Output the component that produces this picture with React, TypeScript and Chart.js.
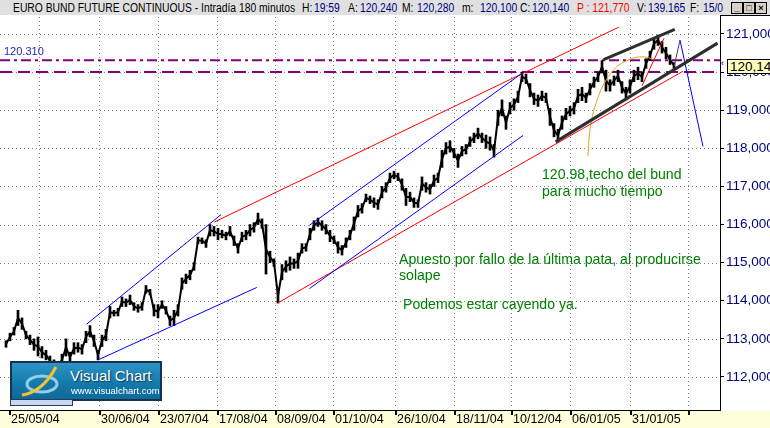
import React, { useEffect, useRef } from 'react';
import { Chart, registerables } from 'chart.js';

Chart.register(...registerables);

// ---------- DATA ----------
// 180-minute bars, sampled: low / high of each bar (index = bar number)
const PRICE_LOW = [
  112.78, 112.95, 113.10, 113.35, 113.25, 113.00, 112.85, 112.70, 112.55, 112.50,
  112.45, 112.30, 112.20, 112.20, 112.30, 112.55, 112.40, 112.60, 112.65, 112.60,
  112.90, 113.05, 112.80, 112.45, 112.80, 112.95, 113.55, 113.60, 113.60, 113.85,
  113.85, 113.90, 113.75, 113.70, 113.75, 114.20, 114.15, 113.60, 113.55, 113.80,
  113.65, 113.35, 113.35, 113.60, 114.30, 114.45, 114.55, 114.80, 115.50, 115.50,
  115.40, 115.70, 115.70, 115.60, 115.65, 115.60, 115.70, 115.45, 115.25, 115.55,
  115.60, 115.70, 115.80, 116.00, 115.90, 114.70, 115.00, 114.90, 113.94, 114.55,
  114.75, 114.80, 114.85, 114.85, 115.25, 115.30, 115.60, 115.85, 115.95, 115.85,
  115.75, 115.55, 115.50, 115.25, 115.20, 115.40, 115.60, 115.85, 116.20, 116.30,
  116.60, 116.55, 116.45, 116.40, 116.70, 116.85, 117.10, 117.20, 117.15, 116.90,
  116.50, 116.60, 116.45, 116.45, 116.90, 116.85, 116.80, 117.00, 117.10, 117.50,
  117.85, 117.90, 117.75, 117.50, 117.80, 117.85, 118.05, 118.15, 118.25, 118.15,
  118.00, 117.95, 117.77, 118.60, 118.85, 118.50, 118.90, 119.00, 119.20, 119.75,
  119.70, 119.35, 119.15, 119.10, 119.25, 119.20, 118.60, 118.30, 118.17, 118.50,
  118.75, 118.85, 118.90, 119.20, 119.25, 119.20, 119.40, 119.60, 119.75, 119.98,
  119.50, 119.50, 119.65, 119.75, 119.45, 119.27, 119.45, 119.75, 119.80, 119.75,
  120.10, 120.30, 120.60, 120.70, 120.50, 120.35, 120.20, 120.10,
];
const PRICE_HIGH = [
  112.95, 113.15, 113.30, 113.75, 113.55, 113.20, 113.10, 113.00, 113.05, 112.80,
  112.70, 112.55, 112.45, 112.40, 112.60, 113.00, 112.65, 112.90, 112.90, 112.85,
  113.20, 113.35, 113.10, 112.70, 113.10, 113.25, 113.85, 113.75, 113.80, 114.10,
  114.05, 114.15, 113.95, 113.90, 113.95, 114.40, 114.30, 113.90, 113.90, 114.00,
  113.85, 113.60, 113.75, 113.90, 114.60, 114.70, 114.80, 115.00, 115.67, 115.65,
  115.60, 116.00, 115.95, 115.90, 115.85, 115.80, 115.95, 115.70, 115.50, 115.80,
  115.85, 116.00, 116.05, 116.30, 116.15, 116.00, 115.30, 115.10, 114.33, 114.95,
  115.05, 115.15, 115.10, 115.25, 115.50, 115.50, 115.90, 116.10, 116.17, 116.10,
  116.00, 115.85, 115.70, 115.55, 115.45, 115.65, 115.85, 116.20, 116.50, 116.55,
  116.80, 116.75, 116.70, 116.65, 117.00, 117.10, 117.35, 117.40, 117.35, 117.20,
  116.95, 116.85, 116.70, 116.65, 117.25, 117.10, 117.05, 117.30, 117.35, 117.95,
  118.15, 118.20, 118.00, 117.85, 118.05, 118.10, 118.30, 118.40, 118.53, 118.40,
  118.35, 118.30, 118.10, 119.00, 119.27, 118.85, 119.20, 119.30, 119.50, 120.00,
  119.95, 119.70, 119.45, 119.40, 119.50, 119.45, 119.05, 118.65, 118.50, 118.85,
  119.05, 119.10, 119.20, 119.55, 119.60, 119.45, 119.70, 119.87, 120.00, 120.30,
  120.05, 119.80, 119.90, 120.05, 119.75, 119.60, 119.80, 120.05, 120.13, 120.00,
  120.35, 120.55, 120.90, 120.97, 120.80, 120.65, 120.45, 120.25,
];

const DATE_LABELS = ['25/05/04', '30/06/04', '23/07/04', '17/08/04', '08/09/04', '01/10/04', '26/10/04', '18/11/04', '10/12/04', '06/01/05', '31/01/05', ''];
const DATE_LABEL_BARS = [0.75, 23.25, 38, 52.75, 67.25, 81.75, 97.25, 112, 126.25, 141, 156, 170.5];
const GRID_BARS = [8.25, 23.25, 38, 52.75, 67.25, 81.75, 97.25, 112, 126.25, 141, 156, 170.5];
const Y_TICKS = [112, 113, 114, 115, 116, 117, 118, 119, 120, 121];

const X_MIN = -1.5;
const X_MAX = 178.5;
const Y_MIN = 111.134;
const Y_MAX = 121.4985;

const LEVEL_DASHDOT = 120.31;
const LEVEL_DASHED = 120.0;

// trend lines: [bar1, price1, bar2, price2]
const BLUE_LINES = [
  [23.05, 112.45, 62.7, 114.35],
  [20.2, 113.39, 53.75, 116.26],
  [75.85, 115.98, 129.3, 119.99],
  [75.85, 114.32, 129.3, 118.34],
  [168.5, 120.84, 174.25, 118.05],
];
const RED_LINES = [
  [52.15, 116.07, 153.2, 121.18],
  [67.9, 113.94, 169.2, 120.02],
  [159.0, 119.64, 164.5, 120.89],
];
const BLACK_LINES = [
  [137.4, 118.17, 177.9, 120.76],
  [149.4, 120.33, 167.2, 121.12],
];
const GREY_LINE = [167, 120.14, 168.5, 120.84];
const ARC_BARS = [145.5, 145.8, 146.4, 147.5, 148.9, 150.6, 152.7, 155.2, 157.7, 160.2, 161.4];
const ARC_PRICES = [117.8, 118.3, 118.75, 119.18, 119.57, 119.88, 120.14, 120.3, 120.39, 120.39, 120.34];

const HEADER_ITEMS = [
  { t: 'EURO BUND FUTURE CONTINUOUS - Intradía 180 minutos', x: 13, c: '#000' },
  { t: 'H:', x: 302, c: '#000' }, { t: '19:59', x: 314, c: '#000080' },
  { t: 'A:', x: 348, c: '#000' }, { t: '120,240', x: 360, c: '#000080' },
  { t: 'M:', x: 402, c: '#000' }, { t: '120,280', x: 417, c: '#000080' },
  { t: 'm:', x: 462, c: '#000' }, { t: '120,100', x: 480, c: '#000080' },
  { t: 'C:', x: 520, c: '#000' }, { t: '120,140', x: 532, c: '#000080' },
  { t: 'P : 121,770', x: 577, c: '#ff0000' },
  { t: 'V:', x: 637, c: '#000' }, { t: '139.165', x: 648, c: '#000080' },
  { t: 'F:', x: 690, c: '#000' }, { t: '15/0', x: 703, c: '#000080' },
];

const FONT = "'Liberation Sans', Arial, sans-serif";
const fmtPrice = (v: number) => v.toFixed(3).replace('.', ',');

export default function App() {
  const ref = useRef<HTMLCanvasElement>(null);

  useEffect(() => {
    const canvas = ref.current;
    if (!canvas) return;

    const seg = (l: number[], color: string, width: number, order: number, dash: number[] = []) => ({
      type: 'line' as const,
      data: [{ x: l[0], y: l[1] }, { x: l[2], y: l[3] }],
      borderColor: color,
      borderWidth: width,
      borderDash: dash,
      pointRadius: 0,
      fill: false,
      tension: 0,
      order,
    });

    const datasets: any[] = [
      {
        type: 'bar',
        data: PRICE_LOW.map((lo, i) => ({ x: i, y: [lo, PRICE_HIGH[i]] })),
        backgroundColor: '#000',
        borderWidth: 0,
        barThickness: 2,
        order: 6,
      },
      {
        type: 'line',
        data: PRICE_LOW.map((lo, i) => ({ x: i, y: (lo + PRICE_HIGH[i]) / 2 })),
        borderColor: '#000',
        borderWidth: 2,
        pointRadius: 0,
        fill: false,
        tension: 0,
        order: 5,
      },
      seg([X_MIN, LEVEL_DASHDOT, X_MAX, LEVEL_DASHDOT], '#800080', 2, 7, [10, 4, 3, 4]),
      seg([X_MIN, LEVEL_DASHED, X_MAX, LEVEL_DASHED], '#800080', 2, 7, [12, 6]),
      ...BLUE_LINES.map((l) => seg(l, '#0000ff', 1, 2)),
      ...RED_LINES.map((l) => seg(l, '#ff0000', 1, 2)),
      seg(GREY_LINE, '#444444', 1, 2),
      ...BLACK_LINES.map((l) => seg(l, '#2e2e2e', 3, 1)),
      {
        type: 'line',
        data: ARC_BARS.map((b, i) => ({ x: b, y: ARC_PRICES[i] })),
        borderColor: '#e8a317',
        borderWidth: 1,
        pointRadius: 0,
        fill: false,
        tension: 0.4,
        order: 3,
      },
    ];

    const decor = {
      id: 'decor',
      beforeDraw(chart: any) {
        const { ctx, chartArea: a, width, height } = chart;
        ctx.save();
        ctx.fillStyle = '#ffffff';
        ctx.fillRect(0, 0, width, height);
        ctx.fillStyle = '#ffffdc';
        ctx.fillRect(0, a.bottom + 1, width, height - a.bottom - 1);
        ctx.restore();
      },
      beforeDatasetsDraw(chart: any) {
        const { ctx, chartArea: a, scales } = chart;
        const xs = scales.x;
        const ys = scales.y;
        ctx.save();
        ctx.strokeStyle = '#808080';
        ctx.lineWidth = 1;
        ctx.setLineDash([1, 3]);
        for (const v of Y_TICKS) {
          const py = Math.round(ys.getPixelForValue(v)) + 0.5;
          ctx.beginPath();
          ctx.moveTo(a.left, py);
          ctx.lineTo(a.right - 1, py);
          ctx.stroke();
        }
        for (const v of GRID_BARS) {
          const px = Math.round(xs.getPixelForValue(v)) + 0.5;
          ctx.beginPath();
          ctx.moveTo(px, a.top + 2);
          ctx.lineTo(px, a.bottom - 1);
          ctx.stroke();
        }
        ctx.restore();
      },
      afterDraw(chart: any) {
        const { ctx, chartArea: a, scales, width } = chart;
        const xs = scales.x;
        ctx.save();
        ctx.fillStyle = '#000';
        ctx.font = `12.5px ${FONT}`;
        ctx.textBaseline = 'middle';
        ctx.textAlign = 'left';
        DATE_LABEL_BARS.forEach((v, i) => {
          const px = Math.round(xs.getPixelForValue(v));
          ctx.fillRect(px, a.bottom + 1, 2, 4);
          if (DATE_LABELS[i]) ctx.fillText(DATE_LABELS[i], px + 2, a.bottom + 10);
        });
        ctx.strokeStyle = '#000';
        ctx.lineWidth = 1;
        ctx.beginPath();
        ctx.moveTo(a.right, 0.5);
        ctx.lineTo(width, 0.5);
        ctx.stroke();
        ctx.restore();
      },
    };

    const chart = new Chart(canvas, {
      type: 'bar',
      data: { datasets },
      options: {
        animation: false,
        responsive: false,
        maintainAspectRatio: false,
        events: [],
        layout: { padding: 0 },
        plugins: { legend: { display: false }, tooltip: { enabled: false }, title: { display: false } },
        scales: {
          x: {
            type: 'linear',
            min: X_MIN,
            max: X_MAX,
            offset: false,
            grid: { display: false },
            border: { display: true, color: '#000', width: 1 },
            ticks: { display: false },
            afterFit: (s: any) => {
              s.height = 18;
              s.paddingLeft = 0;
              s.paddingRight = 0;
            },
          },
          y: {
            type: 'linear',
            position: 'right',
            min: Y_MIN,
            max: Y_MAX,
            afterBuildTicks: (s: any) => {
              s.ticks = Y_TICKS.map((v) => ({ value: v }));
            },
            afterFit: (s: any) => {
              s.width = 50;
              s.paddingTop = 0;
              s.paddingBottom = 0;
            },
            grid: { display: true, drawOnChartArea: false, drawTicks: true, tickLength: 4, color: '#000', lineWidth: 1 },
            border: { display: true, color: '#000', width: 1 },
            ticks: {
              color: '#000080',
              font: { family: FONT, size: 13.5 },
              padding: 2,
              autoSkip: false,
              callback: (v: any) => fmtPrice(Number(v)),
            },
          },
        },
      } as any,
      plugins: [decor],
    });

    return () => chart.destroy();
  }, []);

  const green: React.CSSProperties = {
    position: 'absolute',
    color: '#008000',
    fontFamily: FONT,
    fontSize: 15,
    lineHeight: '16px',
    whiteSpace: 'nowrap',
    transform: 'scaleX(0.94)',
    transformOrigin: 'left top',
  };

  const btn: React.CSSProperties = {
    position: 'absolute',
    top: 2,
    width: 10,
    height: 10,
    background: '#d4d0c8',
    border: '1px solid #000',
    fontSize: 9,
    lineHeight: '10px',
    textAlign: 'center',
    fontFamily: FONT,
    fontWeight: 'bold',
    color: '#000',
  };

  return (
    <div style={{ position: 'fixed', left: 0, top: 0, width: 770, height: 428, overflow: 'hidden', background: '#fff', fontFamily: FONT }}>
      <div style={{ position: 'absolute', left: 0, top: 0, width: 770, height: 15, background: '#e0e0e0' }}>
        {HEADER_ITEMS.map((h, i) => (
          <span
            key={i}
            style={{
              position: 'absolute',
              left: h.x,
              top: 0,
              fontSize: 12,
              lineHeight: '16px',
              color: h.c,
              whiteSpace: 'nowrap',
              transform: 'scaleX(0.86)',
              transformOrigin: 'left top',
            }}
          >
            {h.t}
          </span>
        ))}
        <div style={{ ...btn, left: 731 }}>_</div>
        <div style={{ ...btn, left: 743 }}>□</div>
        <div style={{ ...btn, left: 755 }}>×</div>
      </div>

      <canvas ref={ref} width={770} height={413} style={{ position: 'absolute', left: 0, top: 15, width: 770, height: 413 }} />

      <div style={{ position: 'absolute', left: 4, top: 45, fontSize: 11, color: '#2323c8', whiteSpace: 'nowrap' }}>120.310</div>

      <div style={{ ...green, left: 542, top: 166, lineHeight: '16.5px' }}>
        120.98,techo del bund
        <br />
        para mucho tiempo
      </div>
      <div style={{ ...green, left: 399, top: 251 }}>
        Apuesto por fallo de la última pata, al producirse
        <br />
        solape
      </div>
      <div style={{ ...green, left: 403, top: 296 }}>Podemos estar cayendo ya.</div>

      <div style={{ position: 'absolute', left: 721, top: 58, fontSize: 9, color: '#000' }}>‹</div>
      <div
        style={{
          position: 'absolute',
          left: 727,
          top: 59,
          width: 60,
          height: 13,
          background: '#ffffc0',
          border: '1px solid #000',
          fontSize: 13.5,
          lineHeight: '13px',
          paddingLeft: 2,
          color: '#000',
          whiteSpace: 'nowrap',
        }}
      >
        120,140
      </div>

      <div
        style={{
          position: 'absolute',
          left: 10,
          top: 361,
          width: 148,
          height: 36,
          background: 'linear-gradient(180deg, #2f93c6 0%, #1479ab 55%, #0d6a99 100%)',
          border: '2px solid #16344f',
        }}
      >
        <svg width="52" height="36" style={{ position: 'absolute', left: 4, top: 0 }}>
          <ellipse cx="26" cy="21" rx="15" ry="8" fill="none" stroke="#a9dcf5" strokeWidth="3" opacity="0.85" />
          <path d="M6 32 C 20 30, 32 19, 40 4" stroke="#f2c230" strokeWidth="3" fill="none" />
        </svg>
        <div style={{ position: 'absolute', left: 58, top: 4, fontSize: 15, lineHeight: '17px', color: '#fff', whiteSpace: 'nowrap', textShadow: '1px 1px 1px #0a3a5a' }}>
          Visual Chart
        </div>
        <div style={{ position: 'absolute', left: 59, top: 22, fontSize: 9.5, lineHeight: '11px', color: '#fff', whiteSpace: 'nowrap' }}>
          www.visualchart.com
        </div>
      </div>
      <div style={{ position: 'absolute', left: 10, top: 399, width: 61, height: 5, background: '#c8d8f2', border: '1px solid #2a3a5a' }} />
    </div>
  );
}
